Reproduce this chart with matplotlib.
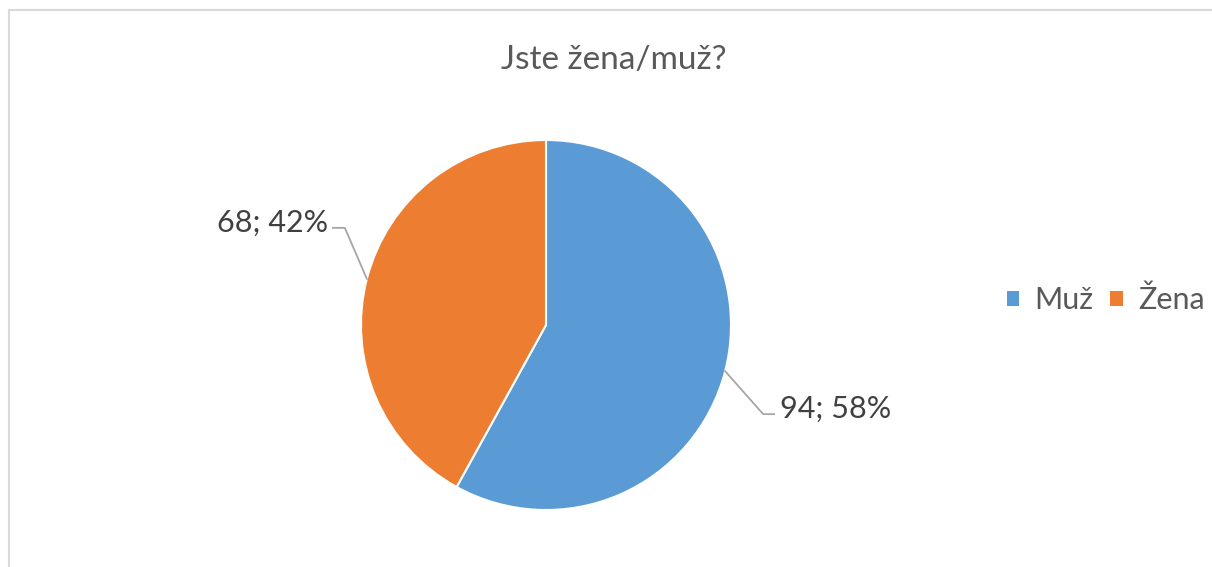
import matplotlib
matplotlib.use("Agg")
import matplotlib.pyplot as plt
import numpy as np
from matplotlib.patches import Rectangle

plt.rcParams['font.family'] = ['Lato', 'DejaVu Sans']

title = "Jste žena/muž?"
categories = ["Muž", "Žena"]
counts = [94, 68]
percents = [58, 42]
colors = ["#5b9bd5", "#ed7d31"]

W, H = 1212, 567
fig = plt.figure(figsize=(W / 100, H / 100), dpi=100)
ax = fig.add_axes([0, 0, 1, 1])

cx, cy, r = 546, H - 325, 185
wedges, _ = ax.pie(counts, colors=colors, startangle=90, counterclock=False,
                   center=(cx, cy), radius=r, frame=True,
                   wedgeprops=dict(edgecolor="white", linewidth=1.5))
ax.set_xlim(0, W)
ax.set_ylim(0, H)
ax.set_aspect('equal')
ax.axis('off')

# frame border
ax.add_patch(Rectangle((9, -5), W + 10, H - 10 + 5, fill=False,
                       edgecolor="#d9d9d9", linewidth=1.5, clip_on=False))

ax.text(cx + 68, H - 60, title, ha='center', va='center', fontsize=24, color="#595959")

# data labels with leader lines
label_specs = [
    # (elbow dx, elbow dy, horizontal dx, ha)
    (38, -43, 11, 'left'),
    (-22, 51, -12, 'right'),
]
for w, c, p, (ex, ey, hx, ha) in zip(wedges, counts, percents, label_specs):
    ang = np.deg2rad((w.theta1 + w.theta2) / 2)
    x0, y0 = cx + r * np.cos(ang), cy + r * np.sin(ang)
    x1, y1 = x0 + ex, y0 + ey
    x2 = x1 + hx
    ax.plot([x0, x1, x2], [y0, y1, y1], color="#a6a6a6", lw=1.3)
    tx = x2 + (6 if ha == 'left' else -5)
    ax.text(tx, y1 + 5, f"{c}; {p}%", ha=ha, va='center', fontsize=22, color="#404040")

handles = [Rectangle((0, 0), 1, 1, facecolor=col) for col in colors]
leg = ax.legend(handles, categories, loc='center left', bbox_to_anchor=(1007 / W, 1 - 300 / H),
                ncol=2, frameon=False, fontsize=22, handlelength=0.4, handleheight=0.4,
                handletextpad=0.5, columnspacing=0.55, borderaxespad=0, borderpad=0)
for t in leg.get_texts():
    t.set_color("#595959")

fig.savefig("out.png", dpi=100)
